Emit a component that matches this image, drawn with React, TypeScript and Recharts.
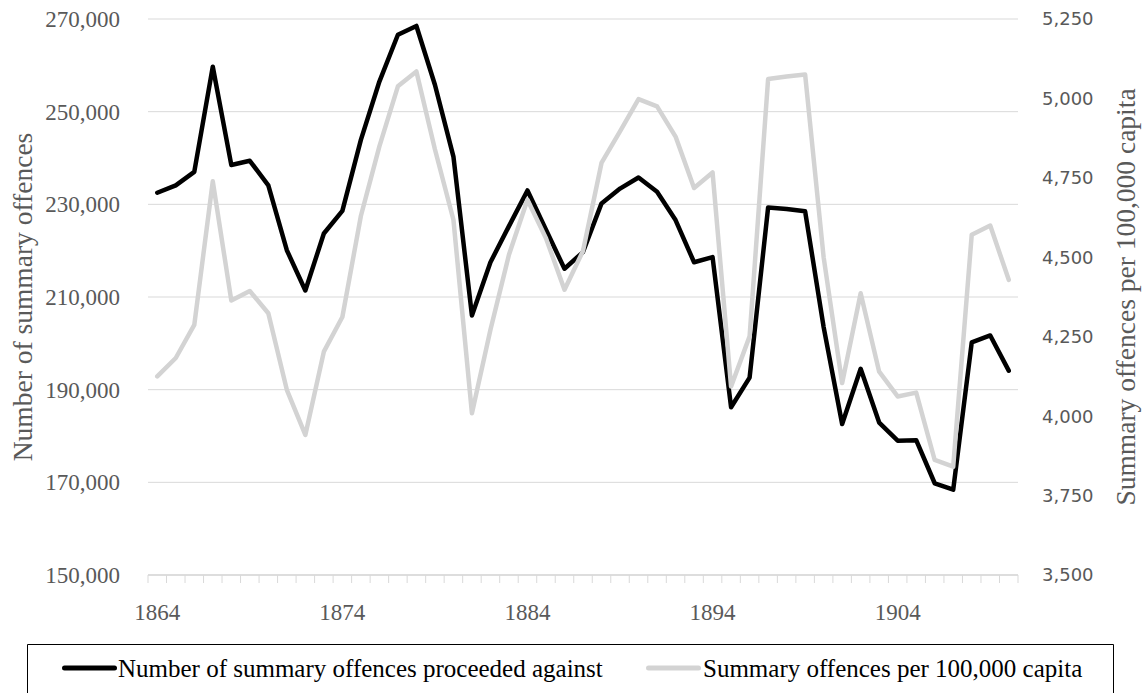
import React from 'react';
import { LineChart, Line, XAxis, YAxis, CartesianGrid, Legend } from 'recharts';

// years on the category axis
const years = [
  1864, 1865, 1866, 1867, 1868, 1869, 1870, 1871, 1872, 1873,
  1874, 1875, 1876, 1877, 1878, 1879, 1880, 1881, 1882, 1883,
  1884, 1885, 1886, 1887, 1888, 1889, 1890, 1891, 1892, 1893,
  1894, 1895, 1896, 1897, 1898, 1899, 1900, 1901, 1902, 1903,
  1904, 1905, 1906, 1907, 1908, 1909, 1910,
];

// Number of summary offences proceeded against (left axis)
const offences = [
  232500, 234100, 237000, 259700, 238500, 239400, 234100, 220100, 211400, 223700,
  228600, 243900, 256500, 266600, 268500, 255800, 240300, 206000, 217500, 225300,
  233000, 224500, 216100, 219700, 230200, 233400, 235800, 232700, 226600, 217500,
  218600, 186200, 192600, 229300, 229000, 228500, 203500, 182600, 194500, 182900,
  179000, 179100, 169800, 168400, 200200, 201700, 194100,
];

// Summary offences per 100,000 capita (right axis)
const perCapita = [
  4125, 4183, 4287, 4739, 4364, 4394, 4324, 4083, 3941, 4203,
  4312, 4630, 4849, 5038, 5085, 4840, 4618, 4009, 4272, 4508,
  4681, 4560, 4398, 4520, 4797, 4896, 4998, 4975, 4880, 4718,
  4767, 4093, 4251, 5061, 5069, 5075, 4500, 4104, 4387, 4140,
  4062, 4074, 3862, 3841, 4571, 4600, 4429,
];

const leftTicks = [150000, 170000, 190000, 210000, 230000, 250000, 270000];
const rightTicks = [3500, 3750, 4000, 4250, 4500, 4750, 5000, 5250];

const data = years.map((year, i) => ({
  year,
  offences: offences[i],
  perCapita: perCapita[i],
}));

const W = 1143;
const H = 693;
const LEFT_W = 148;
const RIGHT_W = 125;
const PLOT_W = W - LEFT_W - RIGHT_W;
const BAND = PLOT_W / years.length;

const SERIF = "'Liberation Serif', 'Times New Roman', serif";
const SANS = "'DejaVu Sans', sans-serif";
const GRID = '#d9d9d9';
const LABEL = '#595959';
const BLACK_LINE = '#000000';
const GREY_LINE = '#d3d3d3';

// tick marks sit between categories, labels every 10 years
function YearTick(props: any) {
  const { x, y, index, payload } = props;
  const half = BAND / 2;
  const last = index === years.length - 1;
  return (
    <g>
      <line x1={x - half} x2={x - half} y1={y} y2={y + 8} stroke={GRID} strokeWidth={1} />
      {last && <line x1={x + half} x2={x + half} y1={y} y2={y + 8} stroke={GRID} strokeWidth={1} />}
      {index % 10 === 0 && (
        <text x={x} y={y + 45} textAnchor="middle" fontFamily={SERIF} fontSize={23} fill={LABEL}>
          {payload.value}
        </text>
      )}
    </g>
  );
}

function AxisTitle({ viewBox, value, dx }: any) {
  const cx = viewBox.x + dx;
  const cy = viewBox.y + viewBox.height / 2;
  return (
    <text
      x={cx}
      y={cy}
      transform={`rotate(-90, ${cx}, ${cy})`}
      textAnchor="middle"
      dominantBaseline="central"
      fontFamily={SERIF}
      fontSize={27.5}
      fill={LABEL}
    >
      {value}
    </text>
  );
}

function LegendBox() {
  return (
    <svg width={1087} height={49} style={{ display: 'block' }}>
      <path d="M0.5,49 V0.5 H1086.5 V49" fill="none" stroke="#000" strokeWidth={1} />
      <line x1={37.5} x2={87.5} y1={24} y2={24} stroke={BLACK_LINE} strokeWidth={5} strokeLinecap="round" />
      <text x={91} y={33} fontFamily={SERIF} fontSize={25} fill="#000">
        Number of summary offences proceeded against
      </text>
      <line x1={621.5} x2={671.5} y1={24} y2={24} stroke={GREY_LINE} strokeWidth={5} strokeLinecap="round" />
      <text x={676} y={33} fontFamily={SERIF} fontSize={25} fill="#000">
        Summary offences per 100,000 capita
      </text>
    </svg>
  );
}

export default function App() {
  return (
    <div style={{ position: 'absolute', left: 0, top: 0, width: W, height: H, background: '#fff' }}>
      <LineChart width={W} height={H} data={data} margin={{ top: 19, right: 0, bottom: 0, left: 0 }}>
        <CartesianGrid vertical={false} stroke={GRID} strokeWidth={1} />
        <XAxis
          dataKey="year"
          height={118}
          interval={0}
          tickLine={false}
          tickSize={0}
          tickMargin={0}
          axisLine={{ stroke: GRID, strokeWidth: 1.5 }}
          padding={{ left: BAND / 2, right: BAND / 2 }}
          tick={<YearTick />}
        />
        <YAxis
          width={LEFT_W}
          domain={[150000, 270000]}
          ticks={leftTicks}
          allowDataOverflow
          axisLine={false}
          tickLine={false}
          tickMargin={22}
          tickFormatter={(v: number) => v.toLocaleString('en-US')}
          tick={{ fontFamily: SERIF, fontSize: 23, fill: LABEL }}
          label={{
            content: (p: any) => <AxisTitle viewBox={p.viewBox} value="Number of summary offences" dx={22} />,
          }}
        />
        <YAxis
          yAxisId="right"
          orientation="right"
          width={RIGHT_W}
          domain={[3500, 5250]}
          ticks={rightTicks}
          allowDataOverflow
          axisLine={false}
          tickLine={false}
          tickMargin={18}
          tickFormatter={(v: number) => v.toLocaleString('en-US')}
          tick={{ fontFamily: SANS, fontSize: 18, fill: LABEL }}
          label={{
            content: (p: any) => (
              <AxisTitle viewBox={p.viewBox} value="Summary offences per 100,000 capita" dx={107} />
            ),
          }}
        />
        <Legend
          verticalAlign="middle"
          align="center"
          wrapperStyle={{ top: 644, left: 27, width: 1087, height: 49 }}
          content={() => <LegendBox />}
        />
        <Line
          type="linear"
          dataKey="offences"
          stroke={BLACK_LINE}
          strokeWidth={4.5}
          strokeLinejoin="round"
          strokeLinecap="round"
          dot={false}
          activeDot={false}
          isAnimationActive={false}
        />
        <Line
          type="linear"
          dataKey="perCapita"
          yAxisId="right"
          stroke={GREY_LINE}
          strokeWidth={4.5}
          strokeLinejoin="round"
          strokeLinecap="round"
          dot={false}
          activeDot={false}
          isAnimationActive={false}
        />
      </LineChart>
    </div>
  );
}
